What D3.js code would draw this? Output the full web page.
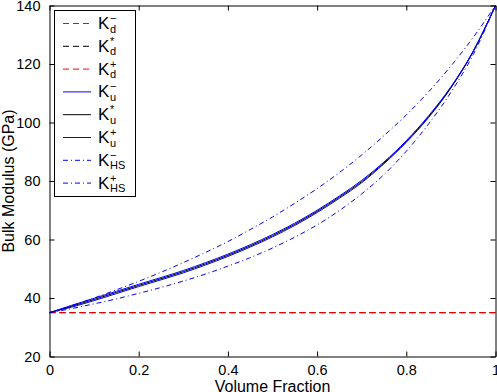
<!DOCTYPE html>
<html>
<head>
<meta charset="utf-8">
<script src="https://cdn.jsdelivr.net/npm/d3@7"></script>
<style>
html,body{margin:0;padding:0;background:#fff;}
svg{display:block;font-family:"Liberation Sans",Arial,Helvetica,sans-serif;}
</style>
</head>
<body>
<svg id="chart" width="497" height="392"></svg>
<script>
// ---- data ----
const frac = [0,0.05,0.1,0.15,0.2,0.25,0.3,0.35,0.4,0.45,0.5,0.55,0.6,0.65,0.7,0.75,0.8,0.85,0.9,0.95,1];
const KdMinus = [35,35,35,35,35,35,35,35,35,35,35,35,35,35,35,35,35,35,35,35,35];
const KdStar  = [35,35,35,35,35,35,35,35,35,35,35,35,35,35,35,35,35,35,35,35,35];
const KdPlus  = [35,35,35,35,35,35,35,35,35,35,35,35,35,35,35,35,35,35,35,35,35];
const KuMinus = [35,36.9,39.1,41.5,43.9,46.2,48.6,51.3,54.2,57.4,60.9,64.8,69.2,74.1,79.4,85.9,93.2,101.7,111.8,124.2,140];
const KuStar  = [35,37.2,39.5,41.9,44.3,46.6,49.0,51.7,54.6,57.8,61.3,65.2,69.6,74.5,79.8,86.2,93.5,102.0,112.0,124.3,140];
const KuPlus  = [35,37.5,39.9,42.3,44.7,47.0,49.4,52.1,55.0,58.2,61.7,65.6,70.0,74.9,80.2,86.5,93.8,102.3,112.2,124.4,140];
const KhsMinus= [35,36.4,38.0,39.7,41.6,43.6,45.8,48.2,50.9,53.8,57.1,60.8,65.0,69.9,75.6,82.2,90.2,99.5,110.3,123.2,140];
const KhsPlus = [35,37.4,40.0,42.8,45.7,48.8,52.1,55.6,59.3,63.4,67.7,72.4,77.4,82.9,88.9,95.5,102.6,110.5,119.3,129.1,140];
const xTicks = [0,0.2,0.4,0.6,0.8,1];
const yTicks = [20,40,60,80,100,120,140];
const seriesNames = [
  {sup:"\u2212", sub:"d"},{sup:"*", sub:"d"},{sup:"+", sub:"d"},
  {sup:"\u2212", sub:"u"},{sup:"*", sub:"u"},{sup:"+", sub:"u"},
  {sup:"\u2212", sub:"HS"},{sup:"+", sub:"HS"}
];
const seriesData = [KdMinus,KdStar,KdPlus,KuMinus,KuStar,KuPlus,KhsMinus,KhsPlus];

// ---- styles ----
const styles = [
  {color:"#ff0000", dash:"6,4"},
  {color:"#000000", dash:"6,4"},
  {color:"#ff0000", dash:"6,4"},
  {color:"#0000ff", dash:null},
  {color:"#000000", dash:null},
  {color:"#0000ff", dash:null},
  {color:"#0000ff", dash:"5,3,1,3"},
  {color:"#0000ff", dash:"5,3,1,3"}
];

const svg = d3.select("#chart");
const L = 49.5, R = 495.5, T = 5.5, B = 356.5;
const x = d3.scaleLinear().domain([0,1]).range([L,R]);
const y = d3.scaleLinear().domain([20,140]).range([B,T]);

svg.append("defs").append("clipPath").attr("id","clip")
  .append("rect").attr("x",L).attr("y",T).attr("width",R-L).attr("height",B-T);

const line = d3.line().x((d,i)=>x(frac[i])).y(d=>y(d)).curve(d3.curveMonotoneX);

const g = svg.append("g").attr("clip-path","url(#clip)");
seriesData.forEach((s,i)=>{
  g.append("path").datum(s).attr("d",line)
    .attr("fill","none").attr("stroke",styles[i].color).attr("stroke-width",1)
    .attr("stroke-dasharray",styles[i].dash);
});

// axes
const fmt = d=> d===0?"0":d===1?"1":String(d);
const axB = d3.axisBottom(x).tickValues(xTicks).tickFormat(fmt).tickSizeInner(-5).tickSizeOuter(0).tickPadding(8.5);
const axT = d3.axisTop(x).tickValues(xTicks).tickFormat("").tickSizeInner(-5).tickSizeOuter(0);
const axL = d3.axisLeft(y).tickValues(yTicks).tickSizeInner(-5).tickSizeOuter(0).tickPadding(9);
const axR = d3.axisRight(y).tickValues(yTicks).tickFormat("").tickSizeInner(-5).tickSizeOuter(0);

function styleAx(sel){
  sel.selectAll("path").attr("stroke","#000").attr("stroke-width",1);
  sel.selectAll("line").attr("stroke","#000").attr("stroke-width",1);
  sel.selectAll("text").attr("fill","#000").style("font-size","14.5px")
     .style("font-family","'Liberation Sans',Arial,Helvetica,sans-serif");
}
styleAx(svg.append("g").attr("transform",`translate(0,${B})`).call(axB));
styleAx(svg.append("g").attr("transform",`translate(0,${T})`).call(axT));
styleAx(svg.append("g").attr("transform",`translate(${L},0)`).call(axL));
styleAx(svg.append("g").attr("transform",`translate(${R},0)`).call(axR));

// axis titles
svg.append("text").attr("x",(L+R)/2).attr("y",391.5).attr("text-anchor","middle")
  .style("font-size","16px").text("Volume Fraction");
svg.append("text").attr("transform",`translate(14,${(T+B)/2}) rotate(-90)`)
  .attr("text-anchor","middle").style("font-size","16px").text("Bulk Modulus (GPa)");

// legend
const lg = svg.append("g");
lg.append("rect").attr("x",54.5).attr("y",10.5).attr("width",81).attr("height",186)
  .attr("fill","#fff").attr("stroke","#000").attr("stroke-width",1);
seriesNames.forEach((n,i)=>{
  const cy = 23.5 + i*22.8;
  lg.append("line").attr("x1",63).attr("x2",91).attr("y1",cy).attr("y2",cy)
    .attr("stroke",styles[i].color).attr("stroke-width",1)
    .attr("stroke-dasharray",styles[i].dash);
  lg.append("text").attr("x",98).attr("y",cy+5.5).style("font-size","17px").text("K");
  lg.append("text").attr("x",110).attr("y",cy+9).style("font-size","11px").text(n.sub);
  lg.append("text").attr("x",110).attr("y",cy-1.5).style("font-size","11px").text(n.sup);
});
</script>
</body>
</html>
